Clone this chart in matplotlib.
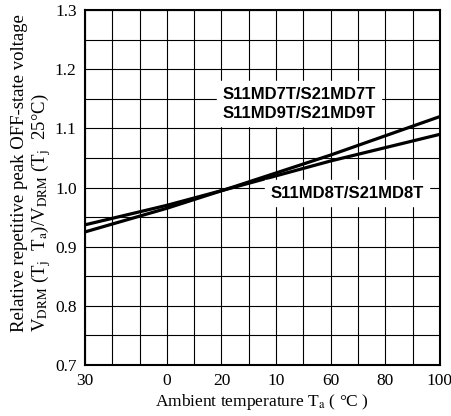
import numpy as np
import matplotlib.pyplot as plt

# data
temp = [-30, 0, 25, 60, 100]
v_md7_md9 = [0.925, 0.965, 1.002, 1.055, 1.12]
v_md8 = [0.937, 0.970, 1.001, 1.045, 1.09]

xticks = [-30, 0, 20, 40, 60, 80, 100]
xtick_labels = ['30', '0', '20', '10', '60', '80', '100']
yticks = [0.7, 0.8, 0.9, 1.0, 1.1, 1.2, 1.3]

plt.rcParams['font.family'] = ['Liberation Serif', 'DejaVu Serif']
plt.rcParams['mathtext.fontset'] = 'stix'

fig = plt.figure(figsize=(4.52, 4.16), dpi=100)
ax = fig.add_axes([0.188, 0.1226, 0.785, 0.853])

# grid every 10 degC / 0.05
for xv in np.arange(-30, 101, 10):
    ax.axvline(xv, color='black', lw=0.8, zorder=1)
for yv in np.arange(0.7, 1.301, 0.05):
    ax.axhline(yv, color='black', lw=0.8, zorder=1)

ax.plot(temp, v_md7_md9, color='black', lw=2.3, zorder=3)
ax.plot(temp, v_md8, color='black', lw=2.3, zorder=3)

bold = dict(family='Liberation Sans', fontweight='bold', fontsize=12,
            backgroundcolor='white', zorder=4)
ax.text(48.5, 1.158, 'S11MD7T/S21MD7T', ha='center', va='center', **bold)
ax.text(48.5, 1.126, 'S11MD9T/S21MD9T', ha='center', va='center', **bold)
ax.text(66, 0.99, 'S11MD8T/S21MD8T', ha='center', va='center', **bold)

ax.set_xlim(-30, 100)
ax.set_ylim(0.7, 1.3)
ax.set_xticks(xticks)
ax.set_xticklabels(xtick_labels)
ax.set_yticks(yticks)
ax.set_yticklabels([f'{v:.1f}' for v in yticks])
ax.tick_params(length=0, labelsize=12.5, pad=6)
for s in ax.spines.values():
    s.set_linewidth(1.5)

ax.set_xlabel('Ambient temperature T$_{\\rm a}$ ( °C )', fontsize=12.5, labelpad=2)
ax.set_ylabel('Relative repetitive peak OFF-state voltage\n'
              'V$_{\\rm DRM}$ (T$_{\\rm j}$  T$_{\\rm a}$)/V$_{\\rm DRM}$ (T$_{\\rm j}$  25°C)',
              fontsize=13.5, linespacing=1.05, multialignment='left')
ax.yaxis.set_label_coords(-0.09, 0.54)

fig.savefig('out.png', dpi=100)
